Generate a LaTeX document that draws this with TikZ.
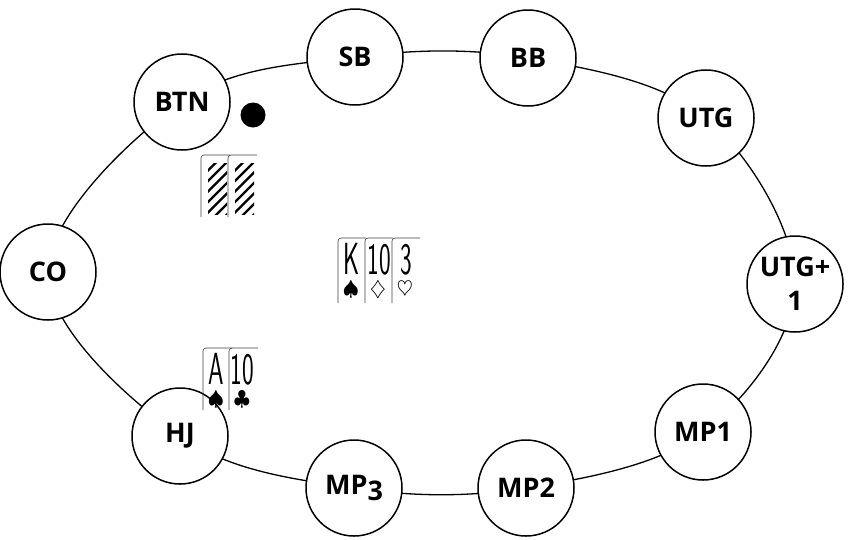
\documentclass[tikz,border=0pt]{standalone}
\usepackage{fontspec}
\setmainfont{Open Sans}
\begin{document}
\begin{tikzpicture}[x=1pt,y=-1pt,
  seat/.style={circle,draw,line width=1.5pt,fill=white,minimum size=96pt,inner sep=0pt,
    font=\fontsize{27}{34}\selectfont\bfseries,align=center},
  cardline/.style={draw=black!75,line width=0.6pt,rounded corners=3pt},
  hatch/.style={line width=2.2pt},
  rank/.style={inner sep=0pt,anchor=base,font=\fontsize{45}{45}\selectfont\sffamily},
  suit/.style={inner sep=0pt,font=\fontsize{20}{20}\selectfont}]
\useasboundingbox (0,0) rectangle (850,539);
% seats
\coordinate (cBTN) at (182,102);
\coordinate (cSB) at (355,57);
\coordinate (cBB) at (528,58);
\coordinate (cUTG) at (706,118);
\coordinate (cUTGa) at (795,284);
\coordinate (cMPa) at (703,432);
\coordinate (cMPb) at (526,488);
\coordinate (cMPc) at (354,488);
\coordinate (cHJ) at (180,436);
\coordinate (cCO) at (48,272);
\draw[line width=1.3pt] plot[smooth cycle,tension=0.6] coordinates {(cBTN) (cSB) (cBB) (cUTG) (cUTGa) (cMPa) (cMPb) (cMPc) (cHJ) (cCO)};
\node[seat] (BTN) at (cBTN) {BTN};
\node[seat] (SB) at (cSB) {SB};
\node[seat] (BB) at (cBB) {BB};
\node[seat] (UTG) at (cUTG) {UTG};
\node[seat] (UTGa) at (cUTGa) {UTG+\\1};
\node[seat] (MPa) at (cMPa) {MP1};
\node[seat] (MPb) at (cMPb) {MP2};
\node[seat] (MPc) at (cMPc) {MP\raisebox{-0.2em}{3}};
\node[seat] (HJ) at (cHJ) {HJ};
\node[seat] (CO) at (cCO) {CO};
% dealer button
\node[circle,fill=black,minimum size=25pt,inner sep=0pt] (dealer) at (253,115) {};
% face-down cards
\foreach \x in {201,228}{
  \draw[cardline] (\x,217) -- (\x,155) -- (\x+29,155);
  \begin{scope}
    \clip (\x+7,163) rectangle (\x+26,214);
    \foreach \k in {0,...,7}{
      \draw[hatch] (\x+4,163+\k*10.5) -- (\x+30,163+\k*10.5-26);
    }
  \end{scope}
}
% board
\foreach \x/\r/\s in {338/K/\spadesuit,365/10/\diamondsuit,392/3/\heartsuit}{
  \draw[cardline] (\x,303) -- (\x,238) -- (\x+28,238);
  \node[rank] at (\x+14,274) {\scalebox{0.55}[1]{\r}};
  \node[suit] at (\x+13,290) {$\s$};
}
% hand
\foreach \x/\r/\s in {203/A/\spadesuit,229/10/\clubsuit}{
  \draw[cardline] (\x,410) -- (\x,348) -- (\x+29,348);
  \node[rank] at (\x+13,384) {\scalebox{0.55}[1]{\r}};
  \node[suit] at (\x+13,400) {$\s$};
}
\end{tikzpicture}
\end{document}
